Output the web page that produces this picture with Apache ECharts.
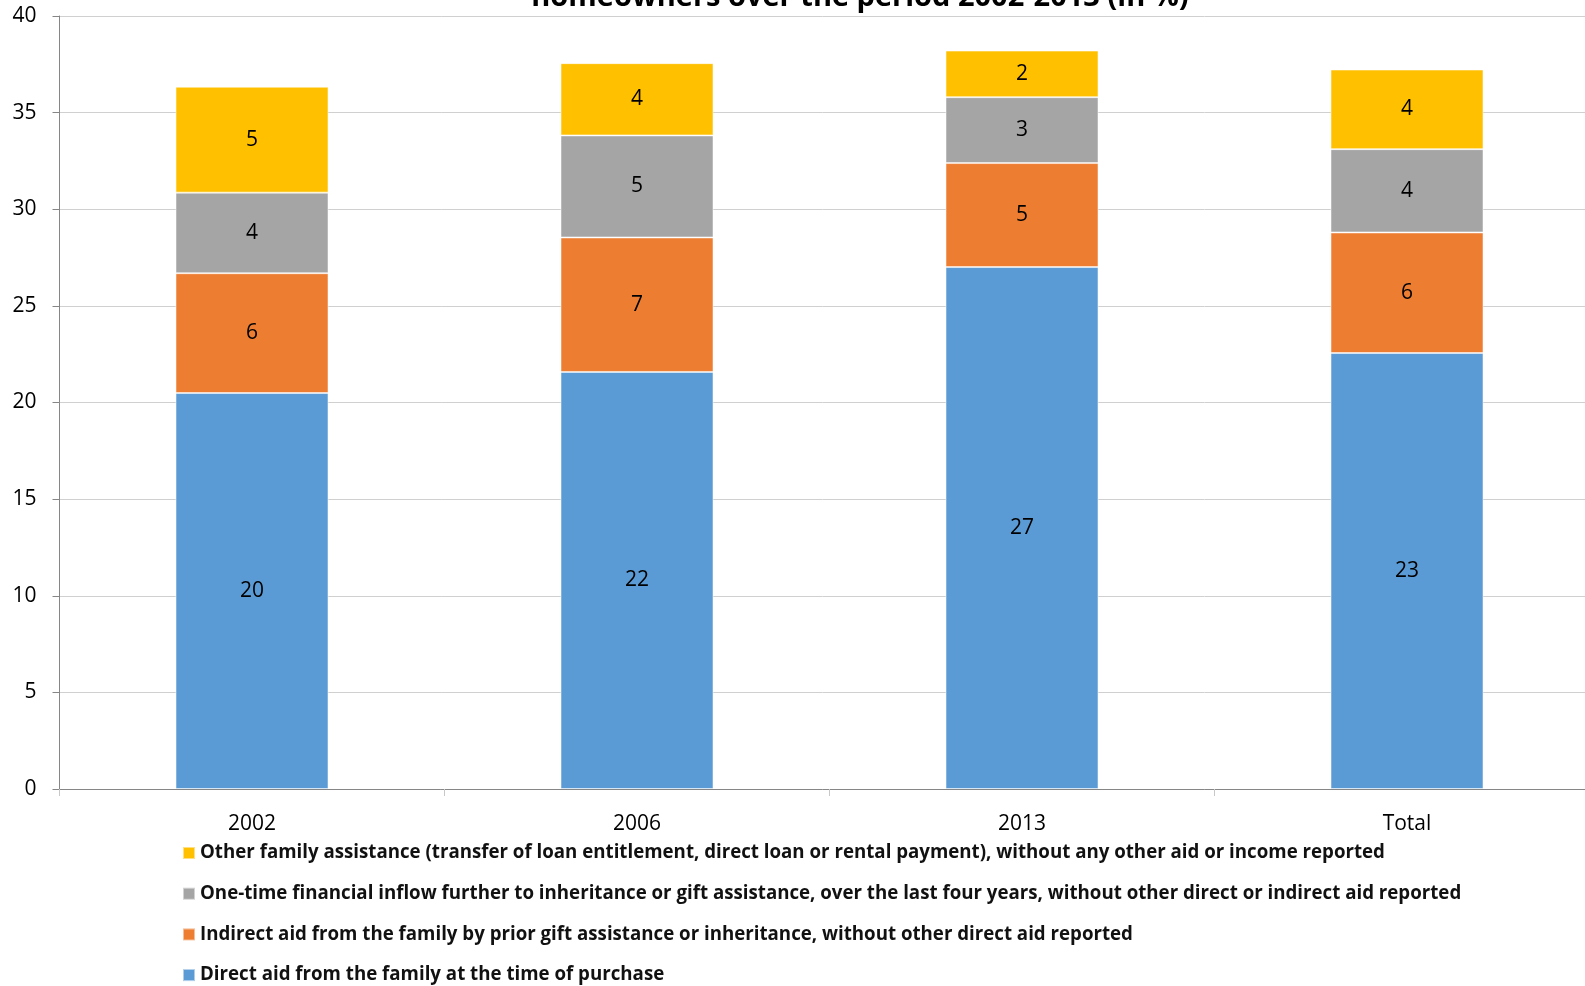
<!DOCTYPE html>
<html>
<head>
<meta charset="utf-8">
<script src="https://cdn.jsdelivr.net/npm/echarts@6/dist/echarts.min.js"></script>
<style>
  html, body { margin: 0; padding: 0; background: #fff; }
  #chart { width: 1585px; height: 986px; }
</style>
</head>
<body>
<div id="chart"></div>
<script>
// categories and stacked values (in %), bottom to top
const categories = ['2002', '2006', '2013', 'Total'];
const directAid = [20.49, 21.58, 27.01, 22.56];
const indirectAid = [6.20, 6.96, 5.38, 6.24];
const oneTimeInflow = [4.17, 5.28, 3.41, 4.31];
const otherAssistance = [5.48, 3.74, 2.41, 4.12];

const names = {
    direct: 'Direct aid from the family at the time of purchase',
    indirect: 'Indirect aid from the family by prior gift assistance or inheritance, without other direct aid reported',
    oneTime: 'One-time financial inflow further to inheritance or gift assistance, over the last four years, without other direct or indirect aid reported',
    other: 'Other family assistance (transfer of loan entitlement, direct loan or rental payment), without any other aid or income reported'
};

const font = '"Open Sans", "Noto Sans", sans-serif';

function stackSeries(name, data, color) {
    return {
        name: name,
        type: 'bar',
        stack: 'aid',
        data: data,
        barWidth: 153,
        itemStyle: { color: color, borderColor: 'rgba(255,255,255,0.5)', borderWidth: 1 },
        label: {
            show: true,
            position: 'inside',
            color: '#000',
            fontFamily: font,
            fontSize: 21,
            formatter: p => Math.round(p.value)
        }
    };
}

const chart = echarts.init(document.getElementById('chart'));
chart.setOption({
    animation: false,
    title: {
        text: 'homeowners over the period 2002-2013 (in %)',
        left: 855,
        textAlign: 'center',
        top: -22,
        textStyle: { fontFamily: font, fontSize: 29, fontWeight: 'bold', color: '#000' }
    },
    // plot runs past the right edge of the picture, as in the source
    grid: { left: 59.5, width: 1540, top: 16, bottom: 197, outerBoundsMode: 'none' },
    legend: {
        orient: 'vertical',
        left: 177,
        top: 838,
        height: 300,
        icon: 'rect',
        itemWidth: 12,
        itemHeight: 12,
        itemGap: 20.7,
        selectedMode: false,
        data: [names.other, names.oneTime, names.indirect, names.direct],
        textStyle: { fontFamily: font, fontSize: 18.7, fontWeight: 'bold', color: '#111', lineHeight: 20 }
    },
    xAxis: {
        type: 'category',
        data: categories,
        axisLine: { lineStyle: { color: '#868686', width: 1 } },
        axisTick: { show: true, length: 7, lineStyle: { color: '#c8c8c8' } },
        axisLabel: { color: '#000', fontFamily: font, fontSize: 21, margin: 25 }
    },
    yAxis: {
        type: 'value',
        min: 0,
        max: 40,
        interval: 5,
        axisLine: { show: true, lineStyle: { color: '#868686', width: 1 } },
        axisTick: { show: true, length: 7, lineStyle: { color: '#868686' } },
        splitLine: { lineStyle: { color: '#d0d0d0', width: 1 } },
        axisLabel: { color: '#000', fontFamily: font, fontSize: 21, margin: 23 }
    },
    series: [
        stackSeries(names.direct, directAid, '#5B9BD5'),
        stackSeries(names.indirect, indirectAid, '#ED7D31'),
        stackSeries(names.oneTime, oneTimeInflow, '#A5A5A5'),
        stackSeries(names.other, otherAssistance, '#FFC000')
    ]
});
</script>
</body>
</html>
